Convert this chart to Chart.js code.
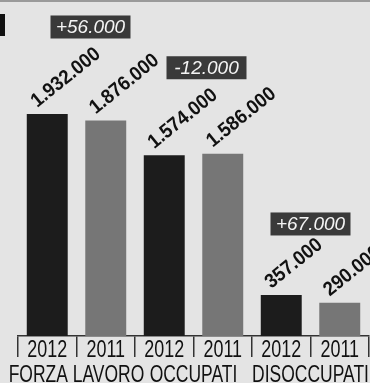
<!DOCTYPE html>
<html lang="it">
<head>
<meta charset="UTF-8">
<title>Forza lavoro, occupati, disoccupati</title>
<script src="https://cdn.jsdelivr.net/npm/chart.js"></script>
<style>
    html, body { margin: 0; padding: 0; background: #e4e4e4; }
    #wrap { position: relative; width: 370px; height: 383px; }
</style>
</head>
<body>
<div id="wrap"><canvas id="chart"></canvas></div>
<script>
// values in thousands
const years = ['2012', '2011', '2012', '2011', '2012', '2011'];
const groups = ['FORZA LAVORO', 'OCCUPATI', 'DISOCCUPATI'];
const values = [1932, 1876, 1574, 1586, 357, 290];
const barColors = ['#1c1c1c', '#767676', '#1c1c1c', '#767676', '#1c1c1c', '#767676'];

// place of the difference boxes, relative to the pair (pixels)
const boxShiftX = [14, 13, 0];
const boxRaise = [87, 86, 71];

function fmt(v) {
    return String(Math.abs(v) * 1000).replace(/\B(?=(\d{3})+(?!\d))/g, '.');
}

const FONT = '"Liberation Sans", Arial, sans-serif';

const labelPlugin = {
    id: 'labels',
    beforeDraw(chart) {
        const ctx = chart.ctx;
        ctx.save();
        ctx.fillStyle = '#9a9a9a';
        ctx.fillRect(0, 0, chart.width, 2);
        ctx.fillStyle = '#111';
        ctx.fillRect(0, 14, 5, 22);
        ctx.restore();
    },
    afterDatasetsDraw(chart) {
        const ctx = chart.ctx;
        const xs = chart.scales.x;
        const bars = chart.getDatasetMeta(0).data;
        ctx.save();

        // rotated value labels
        ctx.fillStyle = '#111';
        ctx.font = 'bold 20px ' + FONT;
        ctx.textAlign = 'left';
        ctx.textBaseline = 'alphabetic';
        bars.forEach((bar, i) => {
            ctx.save();
            ctx.translate(bar.x - 10, bar.y - 6);
            ctx.rotate(-39 * Math.PI / 180);
            ctx.scale(0.93, 1);
            ctx.fillText(fmt(values[i]), 0, 0);
            ctx.restore();
        });

        // difference boxes
        groups.forEach((g, k) => {
            const a = bars[2 * k], b = bars[2 * k + 1];
            const diff = values[2 * k] - values[2 * k + 1];
            const cx = (a.x + b.x) / 2 + boxShiftX[k];
            const cy = Math.min(a.y, b.y) - boxRaise[k];
            ctx.fillStyle = '#3a3a3a';
            ctx.fillRect(cx - 40, cy - 11.5, 80, 23);
            ctx.fillStyle = '#f4f4f4';
            ctx.font = 'italic 19px ' + FONT;
            ctx.textAlign = 'center';
            ctx.textBaseline = 'middle';
            ctx.fillText((diff >= 0 ? '+' : '-') + fmt(diff), cx, cy + 1);
        });

        // year labels
        ctx.fillStyle = '#111';
        ctx.font = '23px ' + FONT;
        ctx.textAlign = 'center';
        ctx.textBaseline = 'alphabetic';
        years.forEach((yr, i) => {
            ctx.save();
            ctx.translate(xs.getPixelForValue(i), 357);
            ctx.scale(0.78, 1);
            ctx.fillText(yr, 0, 0);
            ctx.restore();
        });

        // group labels
        groups.forEach((g, k) => {
            const cx = (xs.getPixelForValue(2 * k) + xs.getPixelForValue(2 * k + 1)) / 2;
            ctx.save();
            ctx.translate(cx, 382);
            ctx.scale(0.76, 1);
            ctx.fillText(g, 0, 0);
            ctx.restore();
        });

        ctx.restore();
    }
};

new Chart(document.getElementById('chart'), {
    type: 'bar',
    data: {
        labels: years,
        datasets: [{
            data: values,
            backgroundColor: barColors,
            borderWidth: 0,
            barPercentage: 0.7,
            categoryPercentage: 1.0
        }]
    },
    options: {
        responsive: true,
        maintainAspectRatio: false,
        animation: false,
        layout: { padding: { left: 18, right: 1, top: 0, bottom: 0 } },
        plugins: {
            legend: { display: false },
            tooltip: { enabled: false }
        },
        scales: {
            x: {
                offset: true,
                grid: {
                    display: true,
                    offset: true,
                    drawOnChartArea: false,
                    drawTicks: true,
                    tickLength: 21,
                    color: '#333',
                    lineWidth: 1.5
                },
                border: { display: true, color: '#333', width: 1.5 },
                ticks: { display: false },
                afterFit(axis) { axis.height = 47; }
            },
            y: {
                display: false,
                min: 0,
                max: 2924
            }
        }
    },
    plugins: [labelPlugin]
});
</script>
</body>
</html>
